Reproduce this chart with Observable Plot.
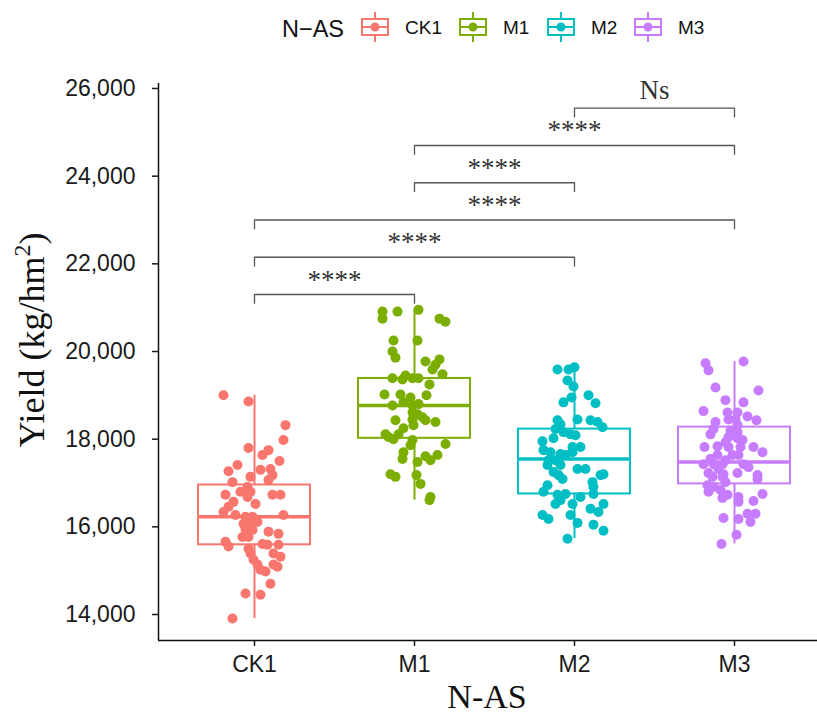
<!DOCTYPE html>
<html><head><meta charset="utf-8">
<script src="https://cdn.jsdelivr.net/npm/d3@7"></script>
<script src="https://cdn.jsdelivr.net/npm/@observablehq/plot@0.6"></script>
<style>body{margin:0;background:#fff} svg{display:block}</style>
</head><body><div id="chart"></div>
<script>
const groups = ["CK1", "M1", "M2", "M3"];
const colors = ["#F8766D", "#7CAE00", "#00BFC4", "#C77CFF"];
const yTicks = [14000, 16000, 18000, 20000, 22000, 24000, 26000];

// jitter: horizontal offset, in 1/160 of a category step
const ck1Yield = [19000,18860,18320,17980,17800,17640,17750,17500,17410,17270,17300,17320,17180,17140,17070,17020,16910,16730,16800,16800,16680,16730,16730,16570,16520,16460,16340,16270,16270,16230,16230,16070,16050,16110,15950,15930,15890,15840,15770,15770,15660,15550,15610,15590,15590,15500,15390,15390,15320,15250,15140,15140,15090,14980,15020,14700,14480,14450,13910];
const ck1Jitter = [-31,-6,31,29,-6,8,14,25,-17,-26,6,16,18,-4,14,-22,-7,-29,-14,-4,-7,18,26,-21,1,-26,-31,-19,29,-9,-2,-11,-4,3,-9,-2,14,24,-12,-6,-29,-26,8,13,24,-6,-4,19,26,-1,3,19,23,11,6,16,-9,6,-22];
const m1Yield = [20910,20750,20910,20950,20750,20680,20250,20250,20000,19860,19770,19820,19700,19590,19480,19390,19360,19450,19390,19390,19250,19020,19020,18950,19000,18770,18840,18770,18800,18610,18570,18500,18430,18450,18430,18390,18250,18320,18110,18050,18000,18110,17980,17860,17890,17700,17550,17610,17520,17640,17480,17200,17140,17180,16980,16680,16610];
const m1Jitter = [-32,-32,-17,4,25,31,-21,3,-22,-19,11,25,21,18,28,-22,-12,-9,-2,4,15,-30,-14,-4,12,-22,-11,-2,4,-2,3,8,-19,-2,11,21,-11,-1,-29,-26,-21,-16,-2,-4,31,-11,-12,11,16,23,3,-24,-19,2,6,16,15];
const m2Yield = [19590,19590,19640,19340,19200,19000,18820,18840,18950,18450,18430,18340,18430,18390,18270,18230,18160,18110,18090,18020,17950,17820,17820,17750,17700,17660,17640,17700,17520,17520,17410,17410,17320,17320,17250,17180,17180,17200,17090,17020,16910,16950,16800,16730,16750,16750,16680,16520,16610,16520,16520,16410,16340,16270,16180,16270,16090,16050,15910,15730];
const m2Jitter = [-17,-6,0,-7,-1,14,21,-11,-3,3,-17,-14,16,23,28,-19,-11,-4,1,-21,-32,-2,6,-31,-24,-14,-9,-2,-26,-19,-14,-27,3,11,-21,-16,26,29,-12,18,19,-27,-31,-17,-9,19,6,-19,-14,-2,29,16,24,-32,-26,-4,3,19,29,-7];
const m3Yield = [19730,19570,19770,19180,19110,18890,18840,18640,18610,18610,18450,18450,18520,18430,18390,18320,18230,18200,18160,18110,18050,18020,17980,17930,17820,17840,17820,17820,17820,17700,17640,17640,17640,17550,17520,17430,17430,17430,17430,17320,17360,17230,17200,17230,17140,17140,17180,17090,17020,16950,16910,16800,16840,16660,16730,16680,16570,16750,16590,16300,16300,16110,16200,16180,15820,15610];
const m3Jitter = [-29,-26,9,-19,24,-9,9,-31,-7,3,-6,1,13,22,-19,3,-21,-4,3,-24,-6,3,8,-9,-30,-17,-6,6,19,28,-17,-2,4,-24,-9,-31,-21,-12,9,-16,14,-26,-11,3,-22,-12,23,23,-9,-27,-21,-26,-14,-12,-7,4,4,28,19,13,21,16,-11,4,2,-13];

// box statistics
const boxQ1 = [15590, 18020, 16750, 16980];
const boxMedian = [16230, 18770, 17545, 17480];
const boxQ3 = [16955, 19385, 18230, 18275];
const whiskerLo = [13910, 16610, 15730, 15610];
const whiskerHi = [19000, 20950, 19640, 19770];

// significance comparisons
const compFrom = ["CK1", "CK1", "CK1", "M1", "M1", "M2"];
const compTo = ["M1", "M2", "M3", "M2", "M3", "M3"];
const compLabel = ["****", "****", "****", "****", "****", "Ns"];
const compY = [21300, 22150, 23000, 23850, 24700, 25550];
const tipLength = 200;

const series = [ck1Yield, m1Yield, m2Yield, m3Yield];
const jitters = [ck1Jitter, m1Jitter, m2Jitter, m3Jitter];
const points = [];
series.forEach((ys, i) => ys.forEach((v, j) => points.push({group: groups[i], yield: v, x: i + jitters[i][j] / 160})));
const boxes = groups.map((g, i) => ({group: g, i, q1: boxQ1[i], med: boxMedian[i], q3: boxQ3[i], lo: whiskerLo[i], hi: whiskerHi[i]}));
const comps = compFrom.map((f, k) => ({k, a: groups.indexOf(f), b: groups.indexOf(compTo[k]), y: compY[k], label: compLabel[k]}));
const bracketPts = comps.flatMap(c => [
  {k: c.k, x: c.a, y: c.y - tipLength},
  {k: c.k, x: c.a, y: c.y},
  {k: c.k, x: c.b, y: c.y},
  {k: c.k, x: c.b, y: c.y - tipLength}
]);
const half = 0.35;
const xDom = [-0.6, 3.6];
const yDom = [13407, 26114];
const serif = "'Liberation Serif', 'Times New Roman', serif";
const sans = "'Liberation Sans', Arial, sans-serif";

const chart = Plot.plot({
  width: 817, height: 716,
  marginTop: 83, marginBottom: 76, marginLeft: 158, marginRight: 0,
  x: {domain: xDom, range: [158, 830]},
  y: {domain: yDom, range: [640, 83]},
  color: {domain: groups, range: colors},
  style: {fontFamily: sans, background: "white", color: "#1a1a1a"},
  marks: [
    Plot.ruleX(boxes, {x: "i", y1: "q3", y2: "hi", stroke: "group", strokeWidth: 2}),
    Plot.ruleX(boxes, {x: "i", y1: "lo", y2: "q1", stroke: "group", strokeWidth: 2}),
    Plot.rect(boxes, {x1: d => d.i - half, x2: d => d.i + half, y1: "q1", y2: "q3", fill: "white", stroke: "group", strokeWidth: 2}),
    Plot.ruleY(boxes, {y: "med", x1: d => d.i - half, x2: d => d.i + half, stroke: "group", strokeWidth: 3.5}),
    Plot.dot(points, {x: "x", y: "yield", fill: "group", r: 5}),
    Plot.line(bracketPts, {x: "x", y: "y", z: "k", stroke: "#555", strokeWidth: 1.3}),
    Plot.text(comps.filter(c => c.label !== "Ns"), {x: d => (d.a + d.b) / 2, y: "y", text: "label", lineAnchor: "bottom", dy: -6, fontFamily: serif, fontSize: 27, fill: "#333"}),
    Plot.text(comps.filter(c => c.label === "Ns"), {x: d => (d.a + d.b) / 2, y: "y", text: "label", lineAnchor: "bottom", dy: -9, fontFamily: serif, fontSize: 27, fill: "#333"}),
    Plot.axisY({ticks: yTicks, tickFormat: d3.format(","), tickSize: 6, tickPadding: 17, fontSize: 23, strokeWidth: 1.5, label: null}),
    Plot.axisX({ticks: [0, 1, 2, 3], tickFormat: i => groups[i], tickSize: 6, tickPadding: 9, fontSize: 23, strokeWidth: 1.5, label: null}),
    Plot.ruleX([xDom[0]], {stroke: "#111", strokeWidth: 1.5}),
    Plot.ruleY([yDom[0]], {stroke: "#111", strokeWidth: 1.5})
  ]
});

const svg = d3.select(chart);
// axis titles
svg.append("text")
  .attr("x", 487).attr("y", 708)
  .attr("text-anchor", "middle")
  .attr("font-family", serif)
  .attr("font-size", 34).attr("fill", "#111")
  .text("N-AS");
const yt = svg.append("text")
  .attr("transform", "translate(44,340) rotate(-90)")
  .attr("text-anchor", "middle")
  .attr("font-family", serif)
  .attr("font-size", 36).attr("fill", "#111");
yt.append("tspan").text("Yield (kg/hm");
yt.append("tspan").attr("font-size", 24).attr("dy", -14).text("2");
yt.append("tspan").attr("dy", 14).text(")");

// legend
const lg = svg.append("g").attr("text-anchor", "start");
lg.append("text").attr("x", 282).attr("y", 36.5)
  .attr("text-anchor", "start")
  .attr("font-family", sans).attr("font-size", 23.5).attr("fill", "#111")
  .text("N\u2212AS");
const keyX = [362, 460, 548, 635];
groups.forEach((g, i) => {
  const kx = keyX[i], c = colors[i];
  const k = lg.append("g").attr("stroke", c).attr("fill", "none").attr("stroke-width", 2);
  k.append("line").attr("x1", kx + 13).attr("x2", kx + 13).attr("y1", 12).attr("y2", 19);
  k.append("line").attr("x1", kx + 13).attr("x2", kx + 13).attr("y1", 35).attr("y2", 42);
  k.append("rect").attr("x", kx).attr("y", 19).attr("width", 26).attr("height", 16);
  k.append("line").attr("x1", kx).attr("x2", kx + 26).attr("y1", 27).attr("y2", 27);
  lg.append("circle").attr("cx", kx + 13).attr("cy", 27).attr("r", 4.5).attr("fill", c);
  lg.append("text").attr("x", kx + 43).attr("y", 34)
    .attr("text-anchor", "start")
    .attr("font-family", sans).attr("font-size", 19).attr("fill", "#111")
    .text(g);
});

document.getElementById("chart").appendChild(chart);
</script>
</body></html>
